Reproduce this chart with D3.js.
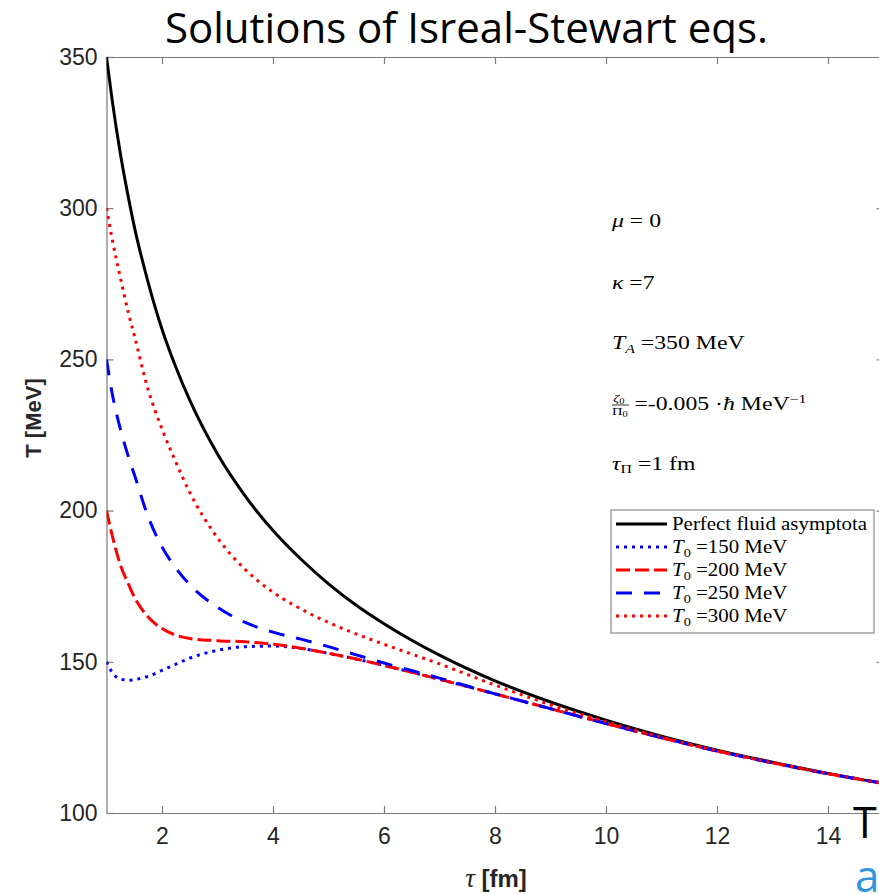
<!DOCTYPE html>
<html>
<head>
<meta charset="utf-8">
<script src="https://cdn.jsdelivr.net/npm/d3@7"></script>
<style>
  body { margin: 0; background: #fff; overflow: hidden; }
  svg { display: block; }
</style>
</head>
<body>
<script>
// values
var tau = [1, 1.1, 1.25, 1.4, 1.5, 1.75, 2, 2.25, 2.5, 3, 3.5, 4, 4.5, 5, 5.5, 6, 7, 8, 9, 10, 11, 12, 13, 14, 15];
var perfectFluid = [350, 336, 318, 303, 294, 275.5, 260, 247.4, 236.5, 218.7, 204.8, 193.4, 184, 175.8, 168.7, 162.6, 152.2, 143.7, 136.7, 130.7, 125.4, 120.8, 116.8, 113.1, 109.8];
var t150 = [150, 146.5, 144.3, 143.9, 144.1, 145.2, 147.2, 149.2, 151.2, 153.8, 155.0, 155.2, 154.4, 152.8, 150.9, 148.8, 144.2, 139.4, 134.5, 129.6, 124.9, 120.5, 116.6, 113, 109.8];
var t200 = [200, 192, 182, 175.5, 171.5, 164.8, 161, 158.8, 157.7, 157, 156.6, 155.8, 154.5, 152.8, 150.9, 148.8, 144.2, 139.4, 134.5, 129.6, 124.9, 120.5, 116.6, 113, 109.8];
var t250 = [250, 239, 227, 217.5, 212, 198, 188, 181, 175.5, 168, 163, 159.8, 157.5, 155, 152.3, 149.6, 144.6, 139.4, 134.5, 129.6, 124.9, 120.5, 116.6, 113, 109.8];
var t300 = [300, 290, 277, 265, 258, 240, 227, 216, 206, 191, 180.5, 173, 167.5, 163, 159.2, 155.8, 149.3, 142.3, 135.8, 130.2, 125.1, 120.6, 116.7, 113, 109.8];
var xTicks = [2, 4, 6, 8, 10, 12, 14];
var yTicks = [100, 150, 200, 250, 300, 350];
var legendLabels = ["Perfect fluid asymptota", "150", "200", "250", "300"];

var series = [
  { vals: perfectFluid, color: "#000", dash: null },
  { vals: t150, color: "#0000ff", dash: "3,5" },
  { vals: t200, color: "#ff0000", dash: "14,5" },
  { vals: t250, color: "#0000ff", dash: "16,12" },
  { vals: t300, color: "#ff0000", dash: "3,5" }
];

var W = 879, H = 894;
var pLeft = 106.5, pRight = 883.5, pTop = 57, pBottom = 813;

var svg = d3.select("body").append("svg")
  .attr("width", W)
  .attr("height", H);

var x = d3.scaleLinear().domain([1, 15]).range([pLeft, pRight]);
var y = d3.scaleLinear().domain([100, 350]).range([pBottom, pTop]);

svg.append("defs").append("clipPath")
  .attr("id", "plotclip")
  .append("rect")
  .attr("x", pLeft).attr("y", pTop - 2)
  .attr("width", pRight - pLeft).attr("height", pBottom - pTop + 4);

// axes, ticks pointing inwards on all four sides
var tickFont = "'Liberation Sans', Arial, sans-serif";
function styleAxis(g) {
  g.selectAll("path").attr("stroke", "#7a7a7a").attr("stroke-width", 1.2);
  g.selectAll("line").attr("stroke", "#7a7a7a").attr("stroke-width", 1.2);
  g.selectAll("text").attr("fill", "#262626").style("font-family", tickFont).style("font-size", "23px");
}
svg.append("g")
  .attr("transform", "translate(0," + pBottom + ")")
  .call(d3.axisBottom(x).tickValues(xTicks).tickSizeInner(-7).tickSizeOuter(0).tickPadding(15))
  .call(styleAxis);
svg.append("g")
  .attr("transform", "translate(0," + pTop + ")")
  .call(d3.axisTop(x).tickValues(xTicks).tickSizeInner(-7).tickSizeOuter(0).tickFormat(""))
  .call(styleAxis);
svg.append("g")
  .attr("transform", "translate(" + pLeft + ",0)")
  .call(d3.axisLeft(y).tickValues(yTicks).tickSizeInner(-7).tickSizeOuter(0).tickPadding(9))
  .call(styleAxis);
svg.append("g")
  .attr("transform", "translate(" + pRight + ",0)")
  .call(d3.axisRight(y).tickValues(yTicks).tickSizeInner(-7).tickSizeOuter(0).tickFormat(""))
  .call(styleAxis);

// curves
var line = d3.line()
  .x(function(d) { return x(d[0]); })
  .y(function(d) { return y(d[1]); })
  .curve(d3.curveMonotoneX);

var plot = svg.append("g").attr("clip-path", "url(#plotclip)");
series.forEach(function(s) {
  var pts = tau.map(function(t, i) { return [t, s.vals[i]]; });
  plot.append("path")
    .datum(pts)
    .attr("d", line)
    .attr("fill", "none")
    .attr("stroke", s.color)
    .attr("stroke-width", 3)
    .attr("stroke-dasharray", s.dash);
});

// title
svg.append("text")
  .attr("x", 165).attr("y", 43)
  .attr("textLength", 603).attr("lengthAdjust", "spacingAndGlyphs")
  .style("font-family", "'Open Sans', sans-serif")
  .style("font-size", "42px")
  .attr("fill", "#000")
  .text("Solutions of Isreal-Stewart eqs.");

// axis labels
var xl = svg.append("text")
  .attr("x", 496).attr("y", 887)
  .attr("text-anchor", "middle")
  .attr("fill", "#262626");
xl.append("tspan")
  .style("font-family", "'Liberation Serif', serif").style("font-style", "italic").style("font-size", "27px")
  .text("τ ");
xl.append("tspan")
  .style("font-family", tickFont).style("font-weight", "bold").style("font-size", "24px")
  .text("[fm]");

svg.append("text")
  .attr("transform", "translate(41,418) rotate(-90)")
  .attr("text-anchor", "middle")
  .attr("fill", "#262626")
  .style("font-family", tickFont).style("font-weight", "bold").style("font-size", "22px")
  .text("T [MeV]");

// parameter annotations (LaTeX look, a bit wider than Times)
var serif = "'Liberation Serif', 'Times New Roman', serif";
var ann = svg.append("g")
  .attr("transform", "translate(612,0) scale(1.32,1)")
  .style("font-family", serif)
  .style("font-size", "18px")
  .attr("fill", "#000");

var a1 = ann.append("text").attr("x", 0).attr("y", 227);
a1.append("tspan").style("font-style", "italic").text("μ");
a1.append("tspan").text(" = 0");

var a2 = ann.append("text").attr("x", 0).attr("y", 289);
a2.append("tspan").style("font-style", "italic").text("κ");
a2.append("tspan").text(" =7");

var a3 = ann.append("text").attr("x", 0).attr("y", 349);
a3.append("tspan").style("font-style", "italic").text("T");
a3.append("tspan").attr("dy", 4).style("font-size", "12px").style("font-style", "italic").text("A");
a3.append("tspan").attr("dy", -4).text(" =350 MeV");

// fraction zeta0 / Pi0
ann.append("text").attr("x", 1).attr("y", 402).style("font-size", "11px")
  .html("<tspan font-style='italic'>ζ</tspan><tspan dy='2' font-size='8px'>0</tspan>");
ann.append("line").attr("x1", 0).attr("x2", 13).attr("y1", 405).attr("y2", 405)
  .attr("stroke", "#000").attr("stroke-width", 0.8);
ann.append("text").attr("x", 0).attr("y", 415).style("font-size", "11px")
  .html("Π<tspan dy='2' font-size='8px'>0</tspan>");
var a4 = ann.append("text").attr("x", 17).attr("y", 410);
a4.append("tspan").text("=-0.005 ·");
a4.append("tspan").style("font-style", "italic").text("ħ");
a4.append("tspan").text(" MeV");
a4.append("tspan").attr("dy", -7).style("font-size", "12px").text("−1");

var a5 = ann.append("text").attr("x", 0).attr("y", 470);
a5.append("tspan").style("font-style", "italic").text("τ");
a5.append("tspan").attr("dy", 3).style("font-size", "12px").text("Π");
a5.append("tspan").attr("dy", -3).text(" =1 fm");

// legend
var lg = svg.append("g");
lg.append("rect")
  .attr("x", 611).attr("y", 510)
  .attr("width", 263).attr("height", 123)
  .attr("fill", "#fff")
  .attr("stroke", "#8a8a8a").attr("stroke-width", 1.2);
series.forEach(function(s, i) {
  var yy = 524 + i * 23;
  lg.append("line")
    .attr("x1", 616).attr("x2", 667)
    .attr("y1", yy).attr("y2", yy)
    .attr("stroke", s.color).attr("stroke-width", 3)
    .attr("stroke-dasharray", s.dash);
  var t = lg.append("text")
    .attr("transform", "translate(672," + (yy + 6) + ") scale(1.1,1)")
    .style("font-family", serif).style("font-size", "19px")
    .attr("fill", "#000");
  if (i === 0) {
    t.text(legendLabels[i]);
  } else {
    t.append("tspan").style("font-style", "italic").text("T");
    t.append("tspan").attr("dy", 4).style("font-size", "13px").text("0");
    t.append("tspan").attr("dy", -4).text(" =" + legendLabels[i] + " MeV");
  }
});

// slide fragments cut at the bottom-right edge
svg.append("text")
  .attr("x", 853).attr("y", 838)
  .style("font-family", "'Open Sans', sans-serif").style("font-size", "43px")
  .attr("fill", "#000")
  .text("T");
svg.append("text")
  .attr("x", 855).attr("y", 892)
  .style("font-family", "'Open Sans', sans-serif").style("font-size", "44px")
  .attr("fill", "#2f96dc")
  .text("a");
</script>
</body>
</html>
